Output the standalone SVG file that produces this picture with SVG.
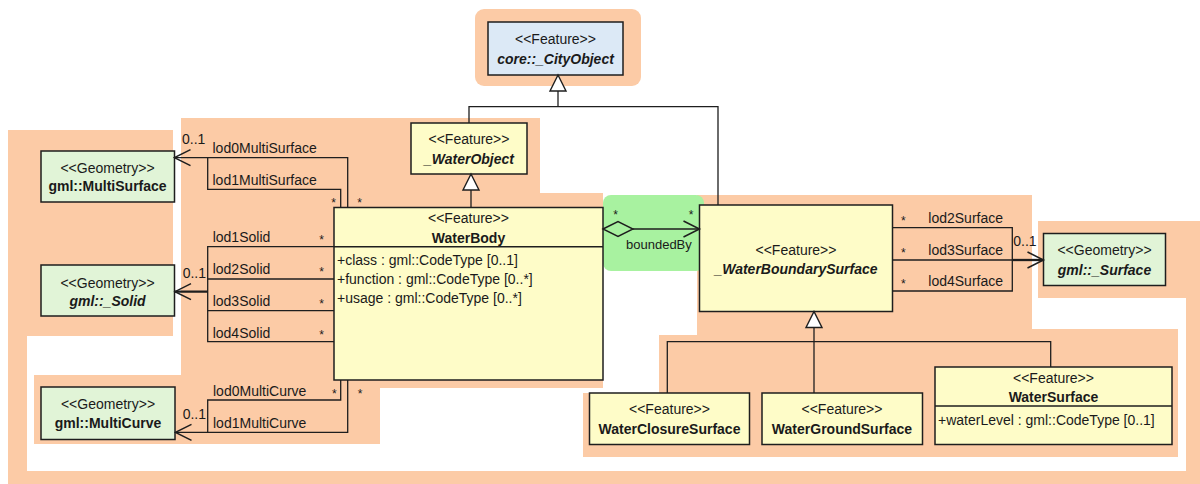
<svg xmlns="http://www.w3.org/2000/svg" width="1200" height="484" viewBox="0 0 1200 484">
<style>
.bg{fill:#fccba6}
.grn{fill:#a8f2a0}
.box{stroke:#1e1e1e;stroke-width:1.5}
.feat{fill:#fefcc8}
.geom{fill:#e1f4d7}
.core{fill:#dce9f6}
.ln{fill:none;stroke:#1e1e1e;stroke-width:1.3}
.thick{stroke-width:2.3}
.t{font-family:"Liberation Sans",Arial,sans-serif;font-size:14px;fill:#1a1a1a}
.s{font-size:12px}
.b{font-weight:bold}
.i{font-style:italic}
.c{text-anchor:middle}
</style>
<defs>
<marker id="open" viewBox="-18 -10 20 20" refX="0" refY="0" markerWidth="20" markerHeight="20" markerUnits="userSpaceOnUse" orient="auto">
<path d="M-16,-8 L0,0 L-16,8" fill="none" stroke="#1e1e1e" stroke-width="1.5"/>
</marker>
<marker id="tri" viewBox="-18 -10 20 20" refX="0" refY="0" markerWidth="20" markerHeight="20" markerUnits="userSpaceOnUse" orient="auto">
<path d="M0,0 L-16,-8 L-16,8 Z" fill="#ffffff" stroke="#1e1e1e" stroke-width="1.4"/>
</marker>
</defs>

<g id="background">
<rect class="bg" x="8" y="130" width="19" height="354"/>
<rect class="bg" x="8" y="471" width="1192" height="13"/>
<rect class="bg" x="1186" y="221" width="14" height="263"/>
<rect class="bg" x="8" y="130" width="165" height="206"/>
<path class="bg" d="M181,118 H540 V193 H603 V388 H181 Z"/>
<rect class="bg" x="34" y="375" width="346" height="69"/>
<path class="bg" d="M697,195 H1032 V329 H1178 V457 H583 V393 H659 V335 H697 Z"/>
<rect class="bg" x="1038" y="221" width="162" height="77"/>
<rect class="bg" x="475" y="9" width="166" height="77" rx="9"/>
<rect class="grn" x="603" y="195" width="101" height="76" rx="8"/>
</g>

<g id="n-cityobject">
<rect class="box core" x="488" y="22" width="135" height="53"/>
<text class="t c" x="555.5" y="44">&lt;&lt;Feature&gt;&gt;</text>
<text class="t c b i" x="555.5" y="63.5">core::_CityObject</text>
</g>

<g id="n-waterobject">
<rect class="box feat" x="411" y="123" width="116" height="51"/>
<text class="t c" x="469" y="144">&lt;&lt;Feature&gt;&gt;</text>
<text class="t c b i" x="469" y="164">_WaterObject</text>
</g>

<g id="n-waterbody">
<rect class="box feat" x="334" y="207.5" width="269" height="172.5"/>
<line class="box" x1="334" y1="246.7" x2="603" y2="246.7"/>
<text class="t c" x="468.5" y="222.7">&lt;&lt;Feature&gt;&gt;</text>
<text class="t c b" x="468.5" y="242.5">WaterBody</text>
<text class="t" x="337" y="265">+class : gml::CodeType [0..1]</text>
<text class="t" x="337" y="284">+function : gml::CodeType [0..*]</text>
<text class="t" x="337" y="303.3">+usage : gml::CodeType [0..*]</text>
</g>

<g id="n-waterboundarysurface">
<rect class="box feat" x="699.5" y="205" width="193" height="106.5"/>
<text class="t c" x="796" y="254.5">&lt;&lt;Feature&gt;&gt;</text>
<text class="t c b i" x="796" y="273.5">_WaterBoundarySurface</text>
</g>

<g id="n-surface">
<rect class="box geom" x="1043.5" y="233.5" width="122" height="52"/>
<text class="t c" x="1104.5" y="255">&lt;&lt;Geometry&gt;&gt;</text>
<text class="t c b i" x="1104.5" y="274.5">gml::_Surface</text>
</g>

<g id="n-multisurface">
<rect class="box geom" x="41" y="151" width="133.5" height="51"/>
<text class="t c" x="107.5" y="172.8">&lt;&lt;Geometry&gt;&gt;</text>
<text class="t c b" x="107.5" y="190.8">gml::MultiSurface</text>
</g>

<g id="n-solid">
<rect class="box geom" x="41" y="265" width="133.5" height="51"/>
<text class="t c" x="107.5" y="287.5">&lt;&lt;Geometry&gt;&gt;</text>
<text class="t c b i" x="107.5" y="306.2">gml::_Solid</text>
</g>

<g id="n-multicurve">
<rect class="box geom" x="41" y="387" width="134" height="52.5"/>
<text class="t c" x="108" y="408.5">&lt;&lt;Geometry&gt;&gt;</text>
<text class="t c b" x="108" y="427.8">gml::MultiCurve</text>
</g>

<g id="n-waterclosuresurface">
<rect class="box feat" x="589.5" y="393" width="160" height="51.5"/>
<text class="t c" x="669.5" y="414">&lt;&lt;Feature&gt;&gt;</text>
<text class="t c b" x="669.5" y="433.5">WaterClosureSurface</text>
</g>

<g id="n-watergroundsurface">
<rect class="box feat" x="762" y="393" width="160.5" height="51.5"/>
<text class="t c" x="842" y="414">&lt;&lt;Feature&gt;&gt;</text>
<text class="t c b" x="842" y="433.5">WaterGroundSurface</text>
</g>

<g id="n-watersurface">
<rect class="box feat" x="935" y="367" width="237" height="77.5"/>
<line class="box" x1="935" y1="406" x2="1172" y2="406"/>
<text class="t c" x="1053.5" y="382.5">&lt;&lt;Feature&gt;&gt;</text>
<text class="t c b" x="1053.5" y="401.8">WaterSurface</text>
<text class="t" x="938" y="424.5">+waterLevel : gml::CodeType [0..1]</text>
</g>

<g id="connectors">
<!-- generalization to core::_CityObject -->
<path class="ln" d="M469,123 V106.7 H718 V205"/>
<path class="ln" d="M558,106.7 V75" marker-end="url(#tri)"/>
<!-- WaterBody to _WaterObject -->
<path class="ln" d="M471,207.5 V174" marker-end="url(#tri)"/>
<!-- boundary surfaces to _WaterBoundarySurface -->
<path class="ln" d="M667.3,393 V341.7 H1050.7 V367"/>
<path class="ln" d="M814,393 V311.5" marker-end="url(#tri)"/>

<!-- MultiSurface -->
<path class="ln" d="M347.7,207.5 V157.7 H174.5" marker-end="url(#open)"/>
<path class="ln" d="M340.7,207.5 V189.3 H207.7 V157.7"/>
<text class="t" x="182" y="143.5">0..1</text>
<text class="t" x="212.5" y="152.8">lod0MultiSurface</text>
<text class="t" x="212.5" y="184.5">lod1MultiSurface</text>
<text class="t s c" x="333.5" y="207">*</text>
<text class="t s c" x="359.5" y="207">*</text>

<!-- Solid -->
<path class="ln" d="M334,246.7 H207.7 V341.7 H334"/>
<path class="ln" d="M334,279 H207.7"/>
<path class="ln" d="M334,310.7 H207.7"/>
<path class="ln thick" d="M207.7,291.7 H175" marker-end="url(#open)"/>
<text class="t" x="182.7" y="277.5">0..1</text>
<text class="t" x="212.7" y="241.8">lod1Solid</text>
<text class="t" x="212.7" y="274.3">lod2Solid</text>
<text class="t" x="212.7" y="306">lod3Solid</text>
<text class="t" x="212.7" y="337.5">lod4Solid</text>
<text class="t s c" x="321.7" y="243.7">*</text>
<text class="t s c" x="321.7" y="276.3">*</text>
<text class="t s c" x="321.7" y="308">*</text>
<text class="t s c" x="321.7" y="339.3">*</text>

<!-- MultiCurve -->
<path class="ln" d="M340.7,380 V400 H207.7 V432.3"/>
<path class="ln" d="M347.7,380 V432.3 H175.5" marker-end="url(#open)"/>
<text class="t" x="182.7" y="418.5">0..1</text>
<text class="t" x="213" y="395.8">lod0MultiCurve</text>
<text class="t" x="213" y="427.8">lod1MultiCurve</text>
<text class="t s c" x="334.3" y="397.7">*</text>
<text class="t s c" x="360" y="397.7">*</text>

<!-- boundedBy -->
<polygon points="603,229 618,221.5 633,229 618,236.5" fill="none" stroke="#1e1e1e" stroke-width="1.4"/>
<path class="ln" d="M633,229 H699.5" marker-end="url(#open)"/>
<text class="t s c" x="615.7" y="218.7">*</text>
<text class="t s c" x="691" y="218.7">*</text>
<text class="t" x="626" y="248.5" style="font-size:13px">boundedBy</text>

<!-- Surface -->
<path class="ln" d="M892.5,227.7 H1012.3 V291 H892.5"/>
<path class="ln" d="M892.5,260 H1012.3"/>
<path class="ln thick" d="M1012.3,260 H1043.5" marker-end="url(#open)"/>
<text class="t" x="1013.3" y="246">0..1</text>
<text class="t s c" x="903.3" y="224.7">*</text>
<text class="t s c" x="903.3" y="257">*</text>
<text class="t s c" x="903.3" y="288">*</text>
<text class="t" x="928.3" y="222.7">lod2Surface</text>
<text class="t" x="928.3" y="255">lod3Surface</text>
<text class="t" x="928.3" y="286">lod4Surface</text>
</g>
</svg>
